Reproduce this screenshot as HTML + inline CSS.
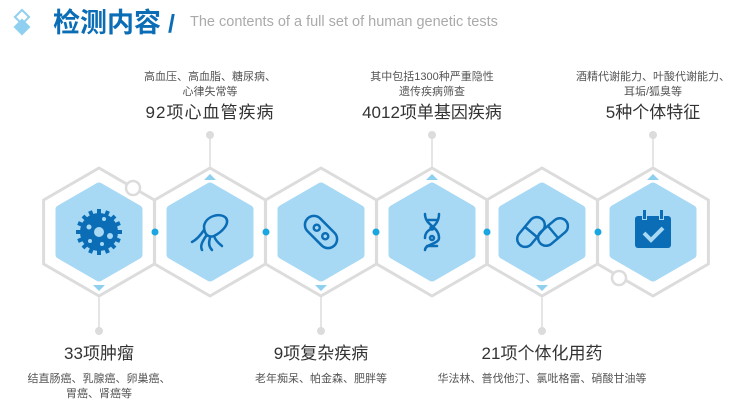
<!DOCTYPE html>
<html><head><meta charset="utf-8"><style>
body{margin:0;background:#fff;}
svg{display:block;font-family:"Liberation Sans","Noto Sans CJK SC",sans-serif;}
</style></head><body>
<svg width="743" height="406" viewBox="0 0 743 406" xmlns="http://www.w3.org/2000/svg">
<defs>
<g id="outer"><polygon points="0,-64 55.4,-32 55.4,32 0,64 -55.4,32 -55.4,-32" fill="none" stroke="#dcdcdc" stroke-width="3" stroke-linejoin="round"/></g>
<g id="inner"><polygon points="0,-45 39,-22.5 39,22.5 0,45 -39,22.5 -39,-22.5" fill="#a7d8f4" stroke="#a7d8f4" stroke-width="9" stroke-linejoin="round"/></g>
</defs>
<!-- header -->
<rect x="17" y="12" width="10" height="10" transform="rotate(45 22 17)" fill="none" stroke="#8fd0f0" stroke-width="2"/>
<rect x="16" y="21" width="12" height="12" transform="rotate(45 22 27)" fill="#8fd0f0"/>
<text x="53" y="32" font-size="27" font-weight="bold" fill="#0b6db5">检测内容</text>
<text x="168" y="32" font-size="25" font-weight="bold" fill="#0b6db5">/</text>
<text x="190" y="26" font-size="14.5" fill="#aaaaaa">The contents of a full set of human genetic tests</text>

<!-- hexes -->
<g transform="translate(99,232)"><use href="#outer"/><use href="#inner"/></g>
<g transform="translate(210,232)"><use href="#outer"/><use href="#inner"/></g>
<g transform="translate(321,232)"><use href="#outer"/><use href="#inner"/></g>
<g transform="translate(432,232)"><use href="#outer"/><use href="#inner"/></g>
<g transform="translate(542,232)"><use href="#outer"/><use href="#inner"/></g>
<g transform="translate(653,232)"><use href="#outer"/><use href="#inner"/></g>

<!-- connector dots -->
<g fill="#1aa6e0">
<circle cx="155" cy="232" r="3.5"/><circle cx="266" cy="232" r="3.5"/><circle cx="376" cy="232" r="3.5"/><circle cx="487" cy="232" r="3.5"/><circle cx="598" cy="232" r="3.5"/>
</g>
<circle cx="133" cy="188" r="7" fill="#fff" stroke="#dcdcdc" stroke-width="2.5"/>
<circle cx="619" cy="278" r="7" fill="#fff" stroke="#dcdcdc" stroke-width="2.5"/>

<!-- triangles -->
<g fill="#8fd0f0">
<polygon points="93,285 105,285 99,291"/>
<polygon points="315,285 327,285 321,291"/>
<polygon points="536,285 548,285 542,291"/>
<polygon points="204,180 216,180 210,174"/>
<polygon points="426,180 438,180 432,174"/>
<polygon points="647,180 659,180 653,174"/>
</g>
<!-- vertical lines -->
<g stroke="#dcdcdc" stroke-width="1.5">
<line x1="99" y1="296" x2="99" y2="331"/><line x1="321" y1="296" x2="321" y2="331"/><line x1="542" y1="296" x2="542" y2="331"/>
<line x1="210" y1="137" x2="210" y2="168"/><line x1="432" y1="137" x2="432" y2="168"/><line x1="653" y1="137" x2="653" y2="168"/>
</g>
<g fill="#dcdcdc">
<circle cx="99" cy="331" r="4"/><circle cx="321" cy="331" r="4"/><circle cx="542" cy="331" r="4"/>
<circle cx="210" cy="135" r="4"/><circle cx="432" cy="135" r="4"/><circle cx="653" cy="135" r="4"/>
</g>

<!-- icons -->
<g fill="#0b6db5">
<g transform="translate(99,232)">
<circle r="19"/>
<g stroke="#0b6db5" stroke-width="4">
<line x1="0" y1="-23" x2="0" y2="23"/><line x1="-23" y1="0" x2="23" y2="0"/>
<line x1="-16" y1="-16" x2="16" y2="16"/><line x1="-16" y1="16" x2="16" y2="-16"/>
<line x1="-9" y1="-21" x2="9" y2="21"/><line x1="9" y1="-21" x2="-9" y2="21"/>
<line x1="-21" y1="-9" x2="21" y2="9"/><line x1="-21" y1="9" x2="21" y2="-9"/>
</g>
<circle r="5" fill="#a7d8f4"/><circle cx="-10" cy="-5" r="2.5" fill="#a7d8f4"/><circle cx="11" cy="4" r="3" fill="#a7d8f4"/><circle cx="-9" cy="9" r="2" fill="#a7d8f4"/><circle cx="3" cy="12" r="2" fill="#a7d8f4"/><circle cx="5" cy="-13" r="2" fill="#a7d8f4"/>
</g>
<g transform="translate(653,232)">
<rect x="-18" y="-16" width="36" height="32" rx="3"/>
<rect x="-11" y="-23" width="5" height="11" fill="#a7d8f4"/><rect x="6" y="-23" width="5" height="11" fill="#a7d8f4"/>
<rect x="-10" y="-22" width="3" height="9"/><rect x="7" y="-22" width="3" height="9"/>
<polyline points="-9,1 -2,8 10,-4" fill="none" stroke="#a7d8f4" stroke-width="4"/>
</g>
</g>
<g fill="none" stroke="#0b6db5" stroke-width="2.5" stroke-linecap="round">
<g transform="translate(210,232)">
<path d="M-6,-6 C-4,-16 10,-20 16,-14 C20,-8 12,0 4,4 C-2,6 -6,2 -6,-6 Z"/>
<path d="M-6,-2 C-10,4 -14,8 -18,10"/><path d="M-4,4 C-8,10 -10,14 -8,18"/><path d="M0,6 C-2,12 0,16 2,18"/><path d="M4,4 C6,10 10,12 12,14"/>
</g>
<g transform="translate(321,232) rotate(-45)">
<rect x="-9" y="-19" width="18" height="38" rx="9"/>
<circle cx="0" cy="-6" r="3"/><circle cx="0" cy="6" r="3"/>
</g>
<g transform="translate(432,232)">
<path d="M-7,-18 C-7,-6 7,-6 7,6 C7,12 -7,12 -7,18"/>
<path d="M7,-18 C7,-10 2,-6 0,-4"/><path d="M-7,6 C-7,0 -3,-2 -1,-3"/>
<line x1="-5" y1="-12" x2="5" y2="-12"/><line x1="-5" y1="14" x2="5" y2="14"/>
<circle cx="0" cy="-4" r="1.5"/><circle cx="0" cy="6" r="2"/>
</g>
<g transform="translate(542,232)">
<g transform="translate(-11,0) rotate(40)"><rect x="-8" y="-17" width="16" height="34" rx="8"/><line x1="-8" y1="0" x2="8" y2="0"/></g>
<g transform="translate(11,0) rotate(50)"><rect x="-8" y="-17" width="16" height="34" rx="8"/><line x1="-8" y1="0" x2="8" y2="0"/></g>
</g>
</g>

<!-- labels -->
<g text-anchor="middle" fill="#555">
<text x="210" y="80" font-size="11">高血压、高血脂、糖尿病、</text>
<text x="210" y="95" font-size="11">心律失常等</text>
<text x="210" y="118" font-size="17" fill="#333" letter-spacing="1">92项心血管疾病</text>
<text x="432" y="80" font-size="11">其中包括1300种严重隐性</text>
<text x="432" y="95" font-size="11">遗传疾病筛查</text>
<text x="432" y="118" font-size="17" fill="#333">4012项单基因疾病</text>
<text x="653" y="80" font-size="11">酒精代谢能力、叶酸代谢能力、</text>
<text x="653" y="95" font-size="11">耳垢/狐臭等</text>
<text x="653" y="118" font-size="17" fill="#333">5种个体特征</text>

<text x="99" y="359" font-size="17" fill="#333">33项肿瘤</text>
<text x="99" y="382" font-size="11">结直肠癌、乳腺癌、卵巢癌、</text>
<text x="99" y="397" font-size="11">胃癌、肾癌等</text>
<text x="321" y="359" font-size="17" fill="#333">9项复杂疾病</text>
<text x="321" y="382" font-size="11">老年痴呆、帕金森、肥胖等</text>
<text x="542" y="359" font-size="17" fill="#333">21项个体化用药</text>
<text x="542" y="382" font-size="11">华法林、普伐他汀、氯吡格雷、硝酸甘油等</text>
</g>
</svg>
</body></html>
